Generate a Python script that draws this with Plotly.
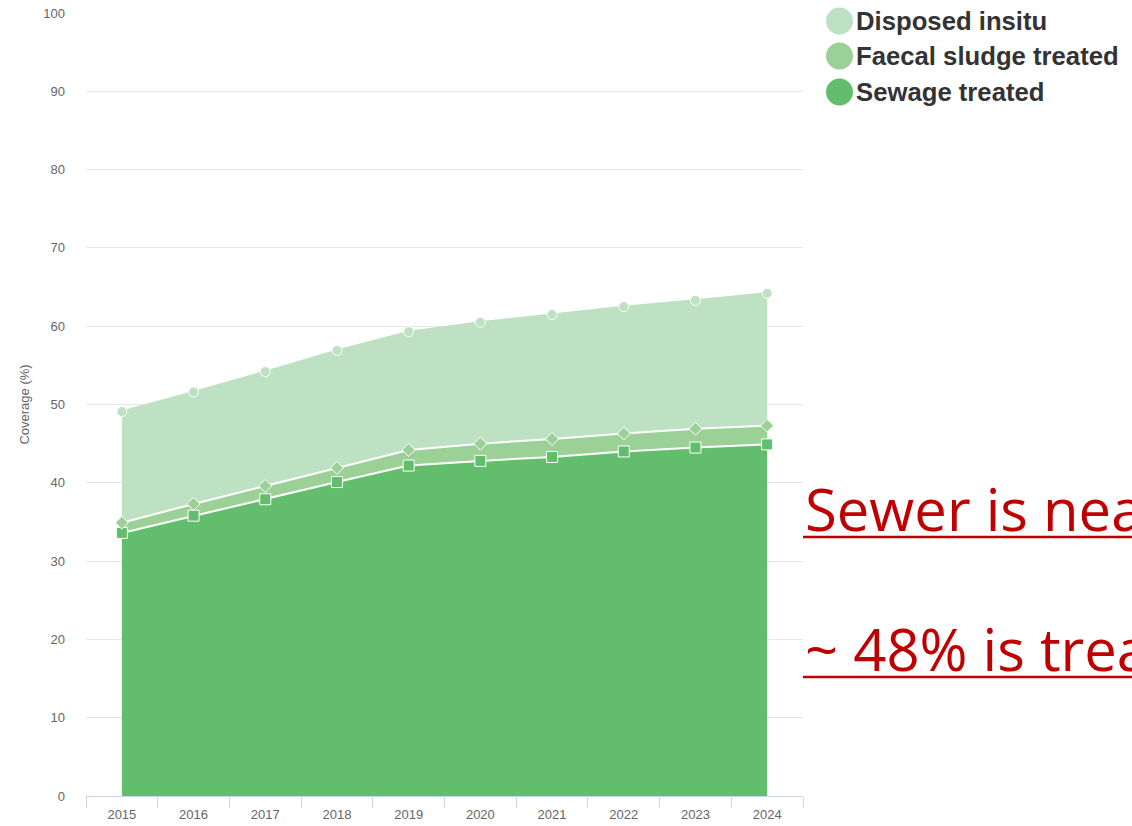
import plotly.graph_objects as go

years = ["2015", "2016", "2017", "2018", "2019", "2020", "2021", "2022", "2023", "2024"]
sewage_treated = [33.6, 35.8, 37.9, 40.1, 42.2, 42.8, 43.3, 44.0, 44.5, 44.9]
faecal_sludge_treated = [1.3, 1.5, 1.7, 1.8, 2.0, 2.2, 2.3, 2.3, 2.4, 2.4]
disposed_insitu = [14.2, 14.3, 14.6, 15.0, 15.1, 15.5, 15.9, 16.2, 16.4, 16.9]

series_names = ["Sewage treated", "Faecal sludge treated", "Disposed insitu"]
series_values = [sewage_treated, faecal_sludge_treated, disposed_insitu]
series_colors = ["#62be6c", "#9bd197", "#bee0c3"]
series_symbols = ["square", "diamond", "circle"]
series_line_colors = ["#ffffff", "#ffffff", "#bee0c3"]
series_marker_sizes = [11, 10, 10]

y_ticks = [0, 10, 20, 30, 40, 50, 60, 70, 80, 90, 100]

annotation_lines = ["Sewer is nearly 45%", "~ 48% is treated"]

# plot area geometry (pixels)
L, R, T, B = 86, 803, 13, 796
W, H = 1132, 826


def px_x(x):
    return (x - L) / (R - L)


def px_y(y):
    return 1 - (y - T) / (B - T)


fig = go.Figure()
for name, vals, col, sym, lc, ms in zip(series_names, series_values, series_colors,
                                        series_symbols, series_line_colors, series_marker_sizes):
    fig.add_trace(go.Scatter(
        x=years, y=vals, name=name, stackgroup="one", mode="lines+markers",
        fillcolor=col,
        line=dict(color=lc, width=2),
        marker=dict(symbol=sym, size=ms, color=col, line=dict(color="#ffffff", width=1)),
        showlegend=False,
    ))

# custom legend (large circles, bold text), top to bottom: reversed stack order
legend_y_px = [21, 56, 92]
for i, (name, col) in enumerate(zip(series_names[::-1], series_colors[::-1])):
    yp = px_y(legend_y_px[i])
    fig.add_shape(type="circle", xref="paper", yref="paper",
                  xsizemode="pixel", ysizemode="pixel",
                  xanchor=px_x(839.5), yanchor=yp,
                  x0=-13.5, x1=13.5, y0=-13.5, y1=13.5,
                  fillcolor=col, line=dict(width=0), layer="above")
    fig.add_annotation(xref="paper", yref="paper",
                       x=px_x(854), y=yp, xanchor="left", yanchor="middle",
                       text="<b>" + name + "</b>", showarrow=False,
                       font=dict(family="Liberation Sans, Arial, sans-serif", size=25.7, color="#333333"))

ann_y_px = [508, 648.5]
underline_y_px = [537, 677]
for txt, ypx, uy in zip(annotation_lines, ann_y_px, underline_y_px):
    fig.add_annotation(xref="paper", yref="paper",
                       x=1, y=px_y(ypx), xanchor="left", yanchor="middle",
                       text=txt, showarrow=False,
                       font=dict(family="Open Sans, Noto Sans, sans-serif", size=58, color="#c00000"))
    fig.add_shape(type="line", xref="paper", yref="paper",
                  x0=1, x1=px_x(W + 20), y0=px_y(uy), y1=px_y(uy),
                  line=dict(color="#c00000", width=2.5), layer="above")

fig.update_layout(
    width=W, height=H,
    margin=dict(l=L, r=W - R, t=T, b=H - B, autoexpand=False),
    paper_bgcolor="white", plot_bgcolor="white",
    showlegend=False,
    font=dict(family="Liberation Sans, Arial, sans-serif", color="#666666", size=13),
)
fig.update_xaxes(
    type="category", range=[-0.5, 9.5], automargin=False,
    showgrid=False, showline=True, linecolor="#ccd6eb", linewidth=1,
    ticks="outside", tickson="boundaries", ticklen=11, tickcolor="#ccd6eb",
    ticklabelstandoff=6,
    tickfont=dict(size=13, color="#666666"),
)
fig.update_yaxes(
    range=[0, 100], tickvals=y_ticks, ticktext=[str(v) for v in y_ticks],
    automargin=False,
    showgrid=True, gridcolor="#e6e6e6", gridwidth=1, zeroline=False,
    showline=False, ticklabelstandoff=20,
    tickfont=dict(size=13, color="#666666"),
    title=dict(text="Coverage (%)", font=dict(size=13, color="#666666"), standoff=10),
)

fig.write_html("out.html", config={"displayModeBar": False},
               post_script="document.body.style.margin='0';document.body.style.overflow='hidden';")
